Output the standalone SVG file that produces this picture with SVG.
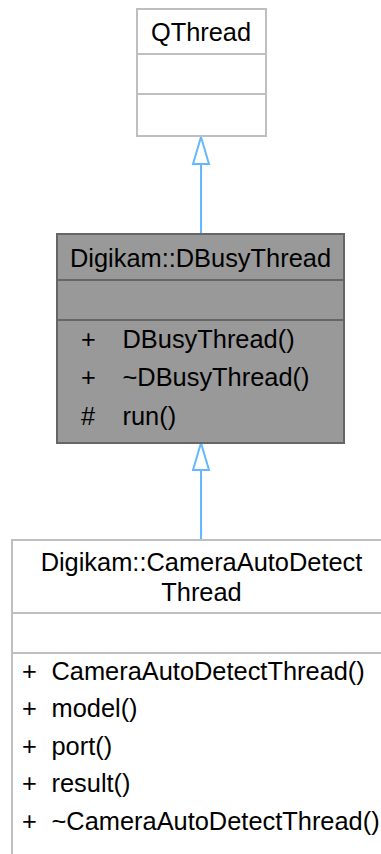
<svg xmlns="http://www.w3.org/2000/svg" width="381" height="854" viewBox="0 0 381 854">
<style>
text { font-family: "Liberation Sans", Arial, Helvetica, sans-serif; font-size: 25.4px; fill: #000; }
.c { text-anchor: middle; }
.light { fill: #ffffff; stroke: #bfbfbf; stroke-width: 2; }
.dark { fill: #999999; stroke: #666666; stroke-width: 2; }
.sepl { stroke: #bfbfbf; stroke-width: 2; }
.sepd { stroke: #666666; stroke-width: 2; }
.edge { stroke: #63b8ff; stroke-width: 2; fill: none; }
.head { stroke: #63b8ff; stroke-width: 2; fill: #ffffff; }
</style>
<rect width="381" height="854" fill="#ffffff"/>
<g id="connectors">
  <path class="edge" d="M201,233 L201,164"/>
  <path class="head" d="M201,137 L209,164 L193,164 Z"/>
  <path class="edge" d="M201,539 L201,470"/>
  <path class="head" d="M201,443 L209,470 L193,470 Z"/>
</g>
<g id="QThread">
  <rect class="light" x="137" y="9" width="129" height="127"/>
  <line class="sepl" x1="137" y1="54" x2="266" y2="54"/>
  <line class="sepl" x1="137" y1="94" x2="266" y2="94"/>
  <text class="c" x="201" y="41">QThread</text>
</g>
<g id="DBusyThread">
  <rect class="dark" x="57" y="234" width="287" height="209"/>
  <line class="sepd" x1="57" y1="280" x2="344" y2="280"/>
  <line class="sepd" x1="57" y1="320" x2="344" y2="320"/>
  <text class="c" x="200.5" y="266.5">Digikam::DBusyThread</text>
  <text x="81" y="347.5">+</text><text x="122.5" y="347.5">DBusyThread()</text>
  <text x="81" y="386">+</text><text x="122.5" y="386">~DBusyThread()</text>
  <text x="81" y="424.5">#</text><text x="122.5" y="424.5">run()</text>
</g>
<g id="CameraAutoDetectThread">
  <rect class="light" x="12" y="540" width="380" height="330"/>
  <line class="sepl" x1="12" y1="613" x2="392" y2="613"/>
  <line class="sepl" x1="12" y1="653" x2="392" y2="653"/>
  <text class="c" x="201.5" y="571">Digikam::CameraAutoDetect</text>
  <text class="c" x="201.5" y="600.5">Thread</text>
  <text x="22" y="680">+</text><text x="51.5" y="680">CameraAutoDetectThread()</text>
  <text x="22" y="717">+</text><text x="51.5" y="717">model()</text>
  <text x="22" y="754.5">+</text><text x="51.5" y="754.5">port()</text>
  <text x="22" y="792">+</text><text x="51.5" y="792">result()</text>
  <text x="22" y="829.5">+</text><text x="51.5" y="829.5">~CameraAutoDetectThread()</text>
</g>
</svg>
